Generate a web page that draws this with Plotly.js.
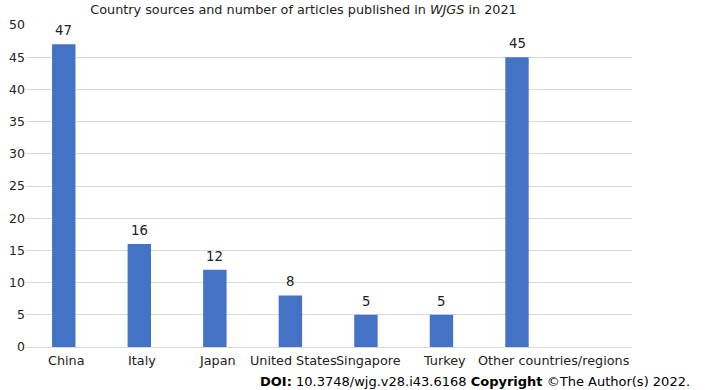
<!DOCTYPE html>
<html><head><meta charset="utf-8">
<script src="https://cdn.plot.ly/plotly-3.0.1.min.js"></script>
<style>body{margin:0;background:#fff}#c{width:706px;height:390px}</style>
</head><body><div id="c"></div>
<script>
const categories = ["China", "Italy", "Japan", "United States", "Singapore", "Turkey", "Other countries/regions"];
const articles = [47, 16, 12, 8, 5, 5, 45];
const yTicks = [0, 5, 10, 15, 20, 25, 30, 35, 40, 45, 50];

const font = "DejaVu Sans, Verdana, sans-serif";
const trace = {
  type: "bar", x: categories, y: articles,
  marker: {color: "#4472C4"},
  hoverinfo: "none"
};
const plotLeft = 26, plotRight = 632, plotTop = 25, plotBottom = 347;
const W = 706, H = 390;
const xLabels = categories.map((c, i) => {
  const last = i === categories.length - 1;
  return {
    text: c, xref: "x", yref: "paper", x: c, y: 0, yanchor: "top", yshift: -4,
    xanchor: last ? "left" : "center", xshift: last ? -41 : 3,
    showarrow: false, font: {family: font, size: 12.8, color: "#222"}
  };
});
const valueLabels = categories.map((c, i) => ({
  text: String(articles[i]), xref: "x", yref: "y", x: c, y: articles[i],
  xanchor: "center", yanchor: "bottom", yshift: 4,
  showarrow: false, font: {family: font, size: 13.3, color: "#222"}
}));
const layout = {
  width: W, height: H,
  margin: {l: plotLeft, r: W - plotRight, t: plotTop, b: H - plotBottom},
  paper_bgcolor: "#fff", plot_bgcolor: "#fff",
  bargap: 0.69,
  showlegend: false,
  title: {text: "Country sources and number of articles published in <i>WJGS</i> in 2021",
    font: {family: font, size: 12.8, color: "#222"}, x: 303.5 / W, xanchor: "center", xref: "container", y: 1 - 9.5 / H, yref: "container", yanchor: "middle"},
  xaxis: {showgrid: false, showline: false, ticks: "", showticklabels: false, automargin: false, fixedrange: true},
  yaxis: {range: [0, 50], tickvals: yTicks, showgrid: true, gridcolor: "#d9d9d9", zeroline: true, zerolinecolor: "#d9d9d9",
    tickfont: {family: font, size: 12.5, color: "#222"}, ticks: "", ticklen: 0, automargin: false, fixedrange: true},
  annotations: xLabels.concat(valueLabels, [{
    text: "<b>DOI:</b> 10.3748/wjg.v28.i43.6168 <b>Copyright</b> ©The Author(s) 2022.",
    xref: "paper", yref: "paper",
    x: 1 + (692 - plotRight) / (plotRight - plotLeft),
    y: (plotBottom - 381.5) / (plotBottom - plotTop), xanchor: "right", yanchor: "middle",
    showarrow: false, font: {family: font, size: 13, color: "#000"}
  }])
};
Plotly.newPlot("c", [trace], layout, {staticPlot: true, displayModeBar: false});
</script></body></html>
